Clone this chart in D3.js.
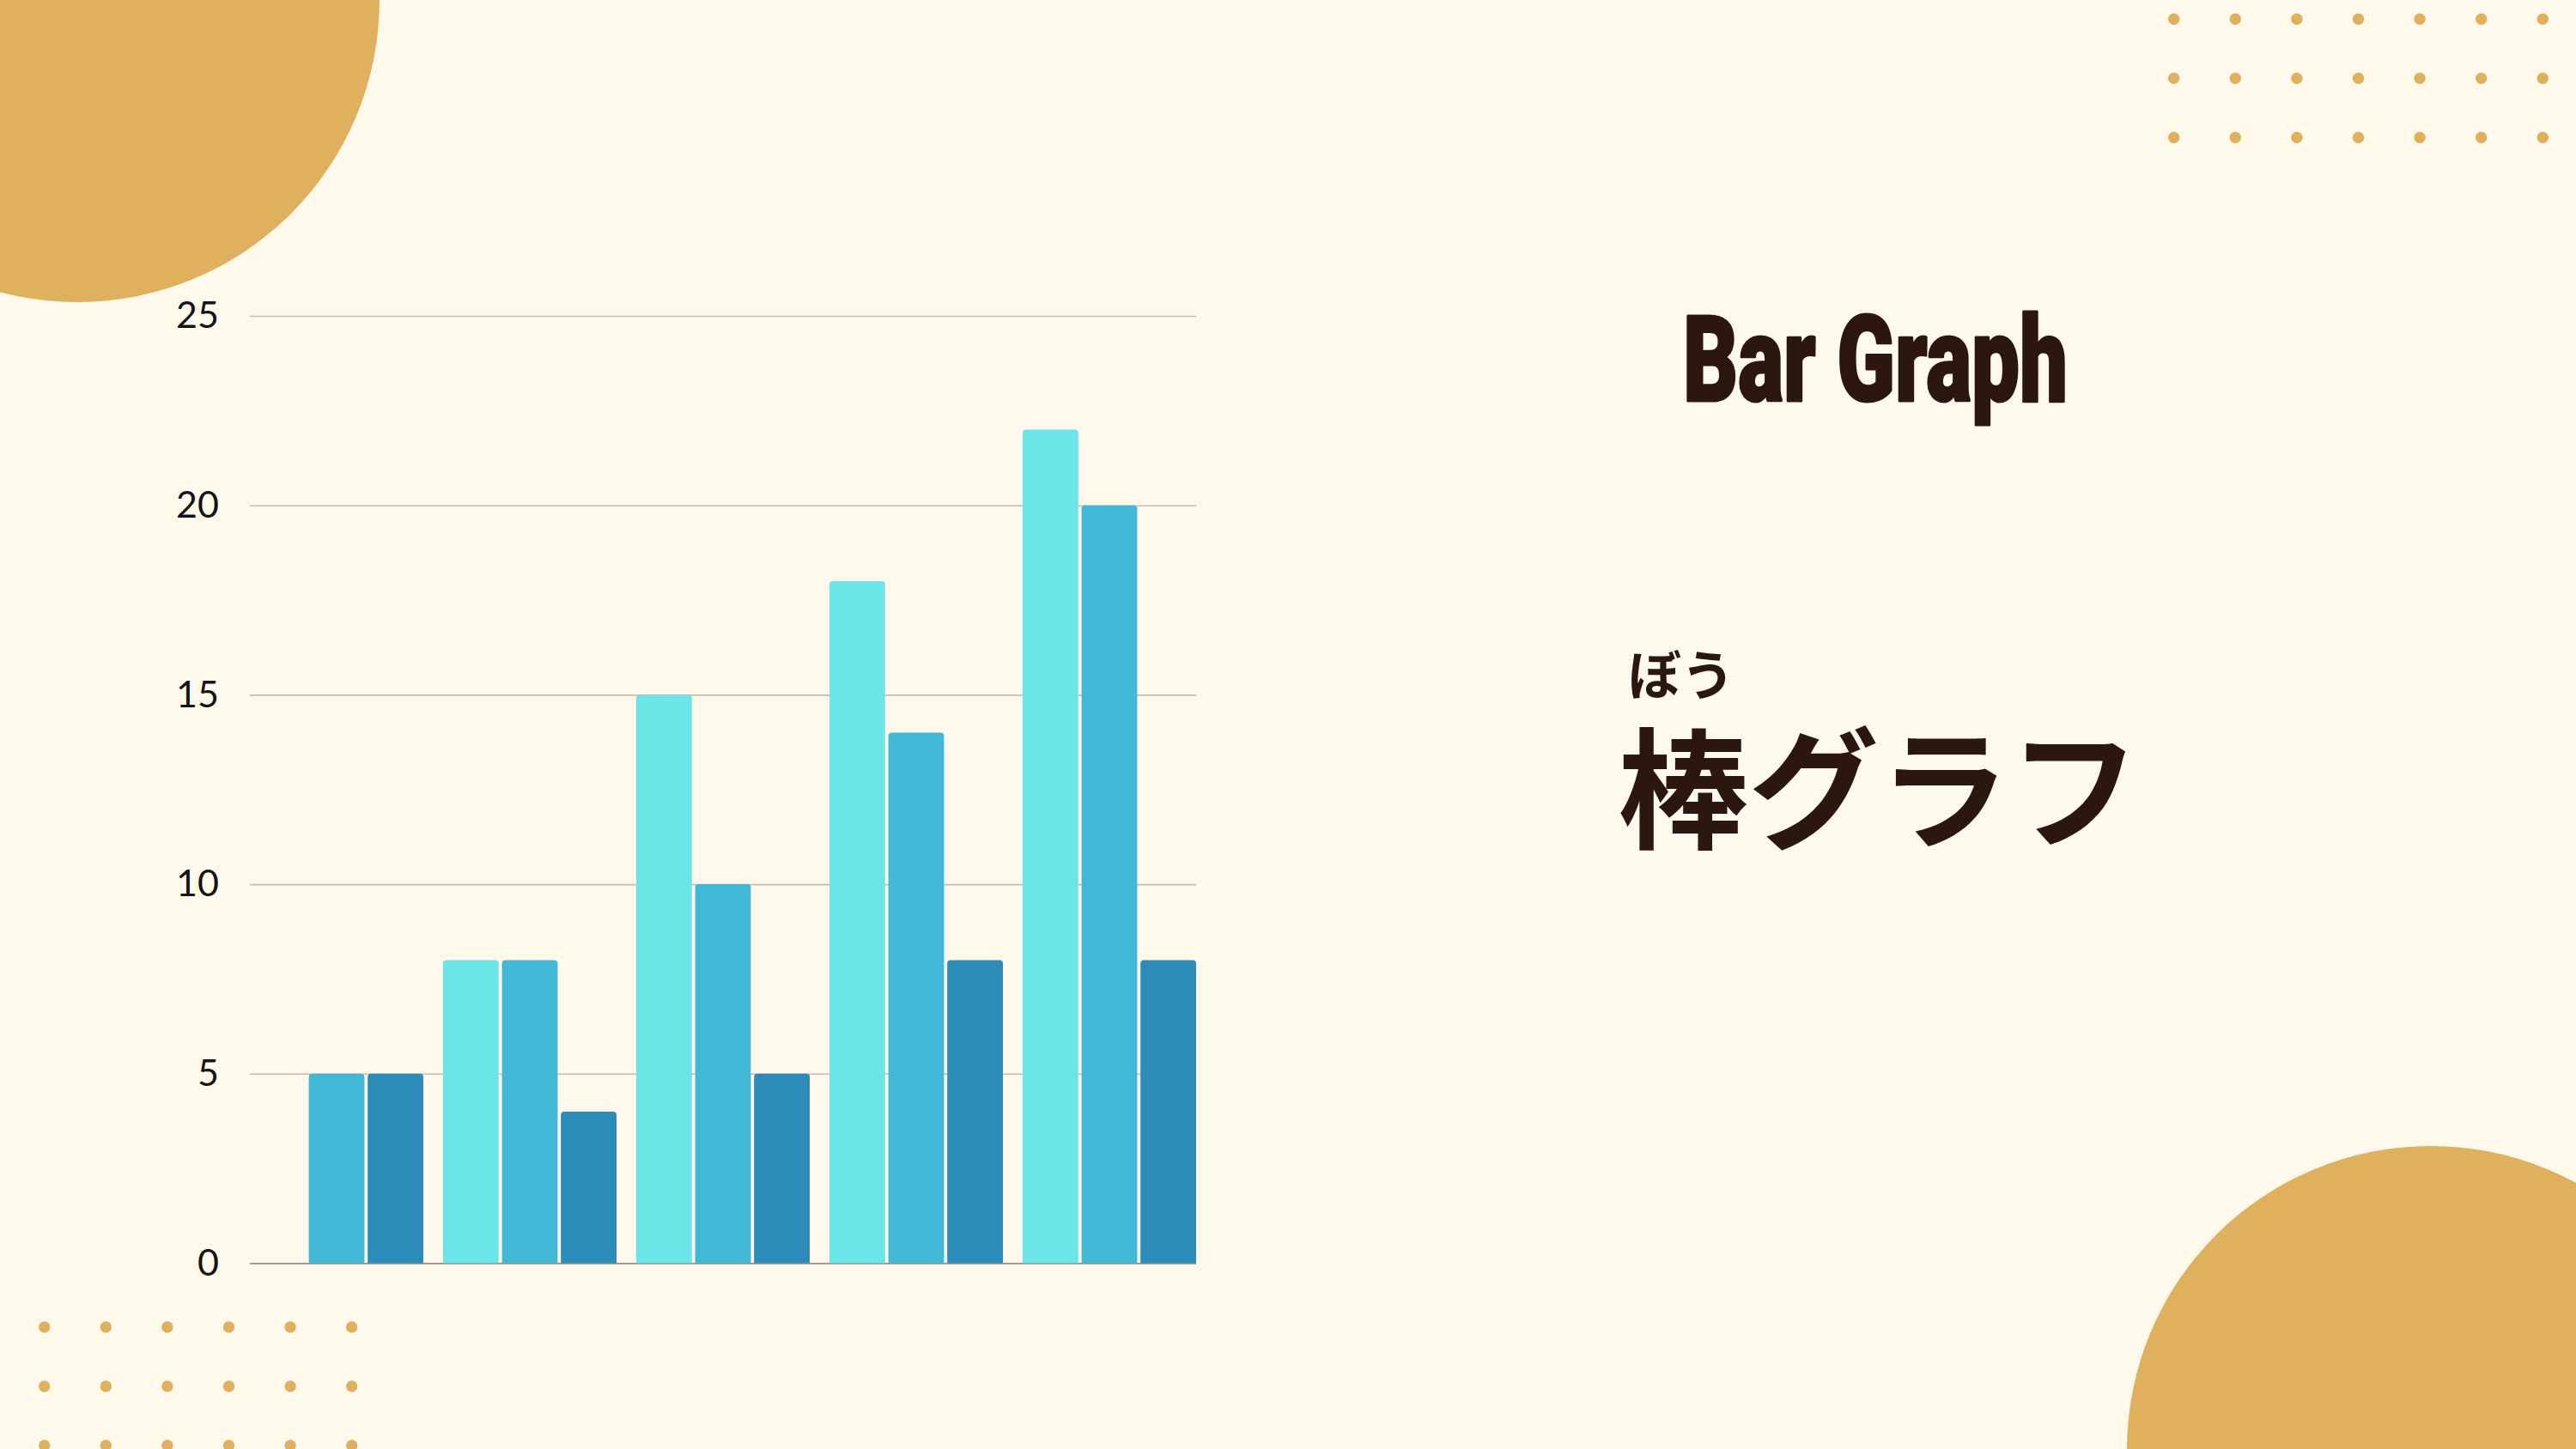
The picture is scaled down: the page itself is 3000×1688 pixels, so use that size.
<!DOCTYPE html>
<html>
<head>
<meta charset="utf-8">
<script src="https://cdn.jsdelivr.net/npm/d3@7"></script>
<style>
  html, body { margin: 0; padding: 0; background: #fff9ec; }
  svg { display: block; }
</style>
</head>
<body>
<div id="chart"></div>
<script>
// chart values
const categories = ["1", "2", "3", "4", "5"];
const seriesNames = ["Series 1", "Series 2", "Series 3"];
const series1 = [0, 8, 15, 18, 22];
const series2 = [5, 8, 10, 14, 20];
const series3 = [5, 4, 5, 8, 8];
const yTicks = [0, 5, 10, 15, 20, 25];

const WIDTH = 3000;
const HEIGHT = 1688;
const PLOT = {left: 291, right: 1393, top: 368, bottom: 1471.5};
const COLORS = ["#6ce5e8", "#41b8d5", "#2d8bba"];
const GOLD = "#dfb15f";
const INK = "#2b1610";

const svg = d3.select("#chart")
  .append("svg")
    .attr("width", WIDTH)
    .attr("height", HEIGHT);

svg.append("rect")
    .attr("width", WIDTH)
    .attr("height", HEIGHT)
    .attr("fill", "#fff9ec");

// decorations: corner circles and dot grids
svg.append("circle").attr("cx", 90).attr("cy", 0).attr("r", 352).attr("fill", GOLD);
svg.append("circle").attr("cx", 2831).attr("cy", 1689).attr("r", 354).attr("fill", GOLD);

function dotGrid(x0, y0, cols, rows) {
  const g = svg.append("g");
  for (let r = 0; r < rows; r++) {
    for (let c = 0; c < cols; c++) {
      g.append("circle")
        .attr("cx", x0 + c * 71.6)
        .attr("cy", y0 + r * 69)
        .attr("r", 6.7)
        .attr("fill", GOLD);
    }
  }
}
dotGrid(2531.7, 22.3, 7, 3);
dotGrid(51.7, 1546, 6, 3);

// scales
const x0 = d3.scaleBand()
  .domain(categories)
  .range([PLOT.left, PLOT.right])
  .paddingInner(0.102)
  .paddingOuter(0);

const x1 = d3.scaleBand()
  .domain(seriesNames)
  .range([0, x0.bandwidth()])
  .paddingInner(0.055)
  .paddingOuter(0);

const y = d3.scaleLinear()
  .domain([0, 25])
  .range([PLOT.bottom, PLOT.top]);

// y axis with gridlines
const yAxis = svg.append("g")
  .attr("transform", "translate(" + PLOT.left + ",0)")
  .call(d3.axisLeft(y)
    .tickValues(yTicks)
    .tickSize(-(PLOT.right - PLOT.left))
    .tickPadding(36));

yAxis.select(".domain").remove();
yAxis.selectAll(".tick line")
  .attr("stroke", (d) => d === 0 ? "#847b6c" : "#c4bdb0")
  .attr("stroke-width", 1.6);
yAxis.selectAll(".tick text")
  .attr("fill", "#141414")
  .attr("font-family", "Lato, 'Open Sans', sans-serif")
  .attr("font-size", 43);

// bars with slightly rounded tops
const rows = categories.map((c, i) => ({
  cat: c,
  values: [series1[i], series2[i], series3[i]]
}));

function topRounded(x, yTop, w, h, r) {
  r = Math.min(r, h, w / 2);
  return "M" + x + "," + (yTop + h) +
    "V" + (yTop + r) +
    "Q" + x + "," + yTop + " " + (x + r) + "," + yTop +
    "H" + (x + w - r) +
    "Q" + (x + w) + "," + yTop + " " + (x + w) + "," + (yTop + r) +
    "V" + (yTop + h) + "Z";
}

const groups = svg.selectAll(".group")
  .data(rows)
  .enter()
  .append("g")
    .attr("class", "group")
    .attr("transform", (d) => "translate(" + x0(d.cat) + ",0)");

groups.selectAll("path")
  .data((d) => d.values.map((v, k) => ({name: seriesNames[k], value: v, k: k}))
                       .filter((b) => b.value > 0))
  .enter()
  .append("path")
    .attr("d", (b) => topRounded(x1(b.name), y(b.value), x1.bandwidth(),
                                 y(0) - y(b.value), 4))
    .attr("fill", (b) => COLORS[b.k]);

// titles
svg.append("text")
    .attr("x", 1960)
    .attr("y", 467)
    .attr("font-family", "Roboto, Inter, 'Liberation Sans', sans-serif")
    .attr("font-weight", 900)
    .attr("font-size", 140)
    .attr("textLength", 448)
    .attr("lengthAdjust", "spacingAndGlyphs")
    .attr("fill", INK)
    .attr("stroke", INK)
    .attr("stroke-width", 3)
    .attr("stroke-linejoin", "round")
    .text("Bar Graph");

// japanese title with its reading (furigana) above the kanji
const jp = svg.append("text")
    .attr("font-family", "'Noto Sans CJK JP', sans-serif")
    .attr("font-weight", 700)
    .attr("fill", INK);

jp.append("tspan")
    .attr("x", 1958)
    .attr("y", 810)
    .attr("text-anchor", "middle")
    .attr("font-size", 62)
    .text("ぼう");

jp.append("tspan")
    .attr("x", 1884)
    .attr("y", 977)
    .attr("text-anchor", "start")
    .attr("font-size", 152)
    .text("棒グラフ");
</script>
</body>
</html>
